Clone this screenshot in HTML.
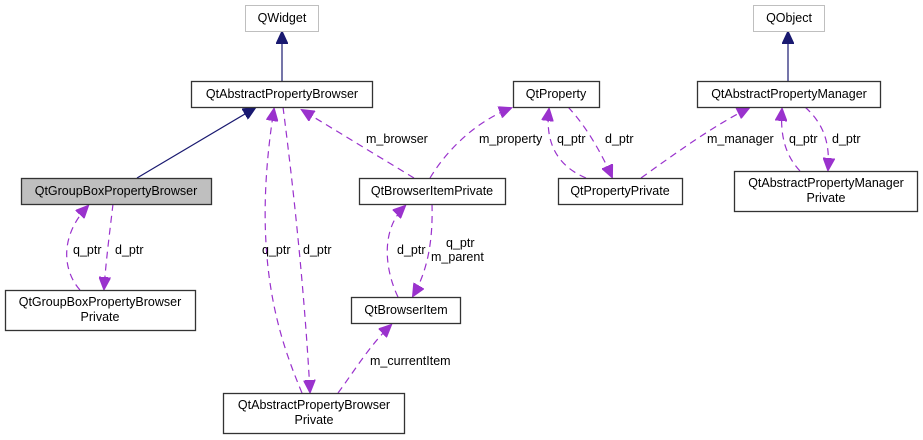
<!DOCTYPE html>
<html><head><meta charset="utf-8"><style>
html,body{margin:0;padding:0;background:#fff;width:923px;height:440px;overflow:hidden}
text{font-family:"Liberation Sans",Arial,sans-serif;font-size:12.5px;fill:#000}
.n{fill:#fff;stroke:#333;stroke-width:1.3}
.g{fill:#fff;stroke:#bfbfbf;stroke-width:1}
.d{fill:none;stroke:#9a32cd;stroke-width:1.2;stroke-dasharray:7,5}
.s{fill:none;stroke:#191970;stroke-width:1.2}
</style></head><body>
<svg width="923" height="440" viewBox="0 0 923 440" xmlns="http://www.w3.org/2000/svg">
<defs>
<marker id="ap" markerWidth="14" markerHeight="12" refX="12" refY="6" orient="auto" markerUnits="userSpaceOnUse"><path d="M0,0 L13,6 L0,12 z" fill="#9a32cd" stroke="#9a32cd"/></marker>
<marker id="an" markerWidth="14" markerHeight="12" refX="12" refY="6" orient="auto" markerUnits="userSpaceOnUse"><path d="M0,0 L13,6 L0,12 z" fill="#191970" stroke="#191970"/></marker>
</defs>
<path class="s" d="M282,81 L282,32" marker-end="url(#an)"/>
<path class="s" d="M788,81 L788,32" marker-end="url(#an)"/>
<path class="s" d="M137,178 L255,108" marker-end="url(#an)"/>
<path class="d" d="M80,290 C62,270 60,235 88,206" marker-end="url(#ap)"/>
<path class="d" d="M113,204 C110,230 106,260 104,289" marker-end="url(#ap)"/>
<path class="d" d="M302,393 C280,340 250,260 274,109" marker-end="url(#ap)"/>
<path class="d" d="M283,107 C295,200 305,300 310,392" marker-end="url(#ap)"/>
<path class="d" d="M414,178 L302,110" marker-end="url(#ap)"/>
<path class="d" d="M430,178 C450,145 480,120 511,108" marker-end="url(#ap)"/>
<path class="d" d="M398,297 C385,270 380,230 405,206" marker-end="url(#ap)"/>
<path class="d" d="M432,204 C433,240 428,270 413,296" marker-end="url(#ap)"/>
<path class="d" d="M338,393 C355,370 370,345 391,325" marker-end="url(#ap)"/>
<path class="d" d="M586,178 C555,165 545,140 549,109" marker-end="url(#ap)"/>
<path class="d" d="M568,107 C585,125 600,150 612,177" marker-end="url(#ap)"/>
<path class="d" d="M641,178 C680,150 715,125 749,108" marker-end="url(#ap)"/>
<path class="d" d="M800,171 C785,155 780,135 782,109" marker-end="url(#ap)"/>
<path class="d" d="M805,107 C825,125 830,145 828,170" marker-end="url(#ap)"/>
<rect class="g" x="245.5" y="5.5" width="73" height="26"/><text x="282" y="22" text-anchor="middle">QWidget</text>
<rect class="g" x="753.5" y="5.5" width="71" height="26"/><text x="789" y="22" text-anchor="middle">QObject</text>
<rect class="n" x="191.5" y="81.5" width="181" height="26"/><text x="282" y="98" text-anchor="middle">QtAbstractPropertyBrowser</text>
<rect class="n" x="513.5" y="81.5" width="86" height="26"/><text x="556" y="98" text-anchor="middle">QtProperty</text>
<rect class="n" x="697.5" y="81.5" width="183" height="26"/><text x="789" y="98" text-anchor="middle">QtAbstractPropertyManager</text>
<rect x="21.5" y="178.5" width="190" height="26" fill="#bfbfbf" stroke="#333" stroke-width="1.3"/><text x="116" y="195" text-anchor="middle">QtGroupBoxPropertyBrowser</text>
<rect class="n" x="359.5" y="178.5" width="146" height="26"/><text x="432" y="195" text-anchor="middle">QtBrowserItemPrivate</text>
<rect class="n" x="558.5" y="178.5" width="124" height="26"/><text x="620" y="195" text-anchor="middle">QtPropertyPrivate</text>
<rect class="n" x="734.5" y="171.5" width="183" height="40"/><text x="826" y="187" text-anchor="middle">QtAbstractPropertyManager</text><text x="826" y="202" text-anchor="middle">Private</text>
<rect class="n" x="5.5" y="290.5" width="190" height="40"/><text x="100" y="306" text-anchor="middle">QtGroupBoxPropertyBrowser</text><text x="100" y="321" text-anchor="middle">Private</text>
<rect class="n" x="351.5" y="297.5" width="109" height="26"/><text x="406" y="314" text-anchor="middle">QtBrowserItem</text>
<rect class="n" x="223.5" y="393.5" width="181" height="40"/><text x="314" y="409" text-anchor="middle">QtAbstractPropertyBrowser</text><text x="314" y="424" text-anchor="middle">Private</text>
<text x="366" y="143">m_browser</text>
<text x="479" y="143">m_property</text>
<text x="557" y="143">q_ptr</text>
<text x="605" y="143">d_ptr</text>
<text x="707" y="143">m_manager</text>
<text x="789" y="143">q_ptr</text>
<text x="832" y="143">d_ptr</text>
<text x="73" y="254">q_ptr</text>
<text x="115" y="254">d_ptr</text>
<text x="262" y="254">q_ptr</text>
<text x="303" y="254">d_ptr</text>
<text x="397" y="254">d_ptr</text>
<text x="446" y="247">q_ptr</text>
<text x="431" y="261">m_parent</text>
<text x="370" y="365">m_currentItem</text>
</svg>
</body></html>
